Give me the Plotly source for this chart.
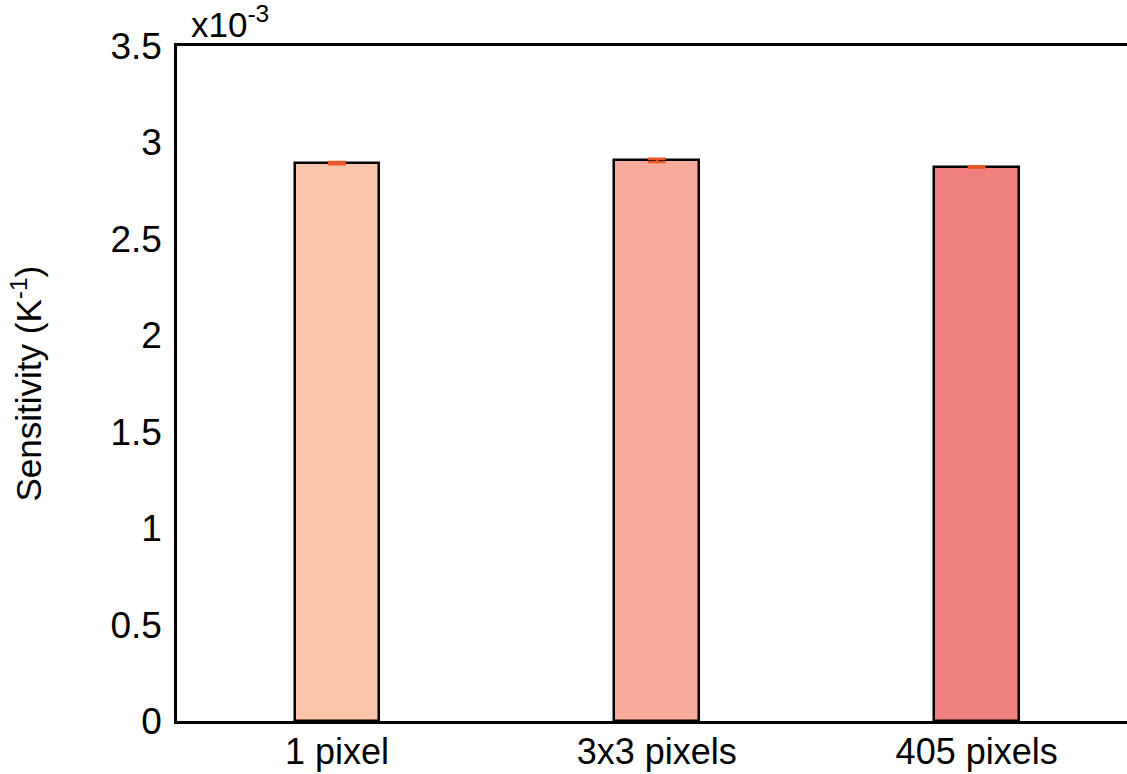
import plotly.graph_objects as go

categories = ["1 pixel", "3x3 pixels", "405 pixels"]
sensitivity_e3 = [2.893, 2.907, 2.873]   # units of 1e-3 K^-1
errors_e3 = [0.006, 0.009, 0.004]
bar_colors = ["#FCC4A8", "#F9AB9B", "#F08080"]
ytick_vals = [0, 0.5, 1, 1.5, 2, 2.5, 3, 3.5]
ytick_text = ["0", "0.5", "1", "1.5", "2", "2.5", "3", "3.5"]

FONT = "Liberation Sans, Arial, Helvetica, sans-serif"

fig = go.Figure()
fig.add_trace(go.Bar(
    x=list(range(len(categories))),
    y=sensitivity_e3,
    width=0.265,
    marker=dict(color=bar_colors, line=dict(color="black", width=2.5)),
    error_y=dict(type="data", array=errors_e3, color="#E8562A", thickness=2.5, width=9),
    showlegend=False,
))

fig.update_layout(
    width=1127, height=774,
    margin=dict(l=177, r=0, t=46, b=53),
    paper_bgcolor="white", plot_bgcolor="white",
    font=dict(family=FONT, size=37, color="black"),
    bargap=0,
    xaxis=dict(
        range=[-0.5, 2.47], automargin=False,
        tickmode="array", tickvals=list(range(len(categories))), ticktext=categories,
        showline=True, linecolor="black", linewidth=2.5, mirror=True,
        ticks="", showgrid=False, zeroline=False,
        ticklabelstandoff=-3,
        tickfont=dict(size=36, family=FONT),
    ),
    yaxis=dict(
        range=[0, 3.5], automargin=False,
        tickmode="array", tickvals=ytick_vals, ticktext=ytick_text,
        showline=True, linecolor="black", linewidth=2.5, mirror=False,
        ticks="", showgrid=False, zeroline=False,
        ticklabelstandoff=5,
        tickfont=dict(size=37, family=FONT),
    ),
    annotations=[
        dict(text="Sensitivity (K<sup>-1</sup>)", textangle=-90,
             xref="paper", yref="paper", x=0, y=0.5,
             xanchor="center", yanchor="middle", xshift=-151,
             showarrow=False, font=dict(size=35, family=FONT)),
        dict(text="x10<sup>-3</sup>",
             xref="paper", yref="paper", x=0, y=1,
             xanchor="left", yanchor="bottom", xshift=12, yshift=0,
             showarrow=False, font=dict(size=35, family=FONT)),
    ],
)

fig.write_html("out.html")
